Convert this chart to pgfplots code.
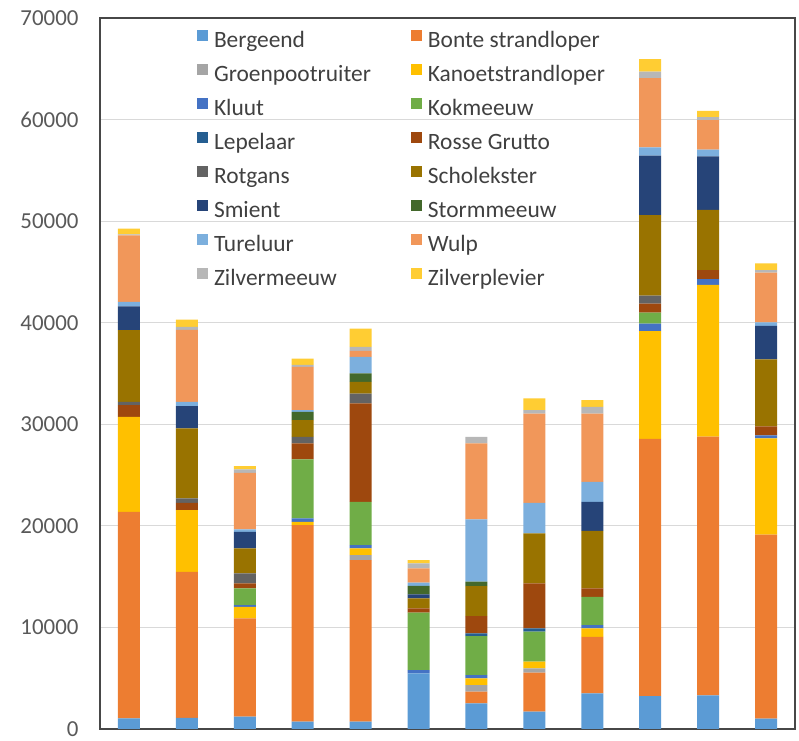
\documentclass[border=0pt]{standalone}
\usepackage{fontspec}
\setmainfont{Carlito}
\usepackage{pgfplots}
\usepackage{pgfplotstable}
\pgfplotsset{compat=1.18}

\definecolor{cBerg}{HTML}{5B9BD5}
\definecolor{cBonte}{HTML}{ED7D31}
\definecolor{cGroen}{HTML}{A5A5A5}
\definecolor{cKanoet}{HTML}{FFC000}
\definecolor{cKluut}{HTML}{4472C4}
\definecolor{cKok}{HTML}{70AD47}
\definecolor{cLepel}{HTML}{255E91}
\definecolor{cRosse}{HTML}{9E480E}
\definecolor{cRot}{HTML}{636363}
\definecolor{cSchol}{HTML}{997300}
\definecolor{cSmient}{HTML}{264478}
\definecolor{cStorm}{HTML}{43682B}
\definecolor{cTur}{HTML}{7CAFDD}
\definecolor{cWulp}{HTML}{F1975A}
\definecolor{cZilvm}{HTML}{B7B7B7}
\definecolor{cZilvp}{HTML}{FFCD33}

\pgfplotstableread{
x  Berg Bonte Groen Kanoet Kluut Kok  Lepel Rosse Rot Schol Smient Storm Tur  Wulp Zilvm Zilvp
0  1050 20330 0     9350   0     0    0     1150  330 7050  2360   0     430  6550 100   570
1  1100 14380 0     6070   0     0    0     720   430 6890  2190   0     420  7090 300   710
2  1210 9680  0     1140   170   1640 0     500   980 2460  1630   0     240  5570 330   330
3  720  19350 0     330    330   5810 0     1570  650 1640  0      820   170  4260 200   620
4  720  15910 490   660    320   4270 0     9680  980 1150  0      820   1640 590  390   1810
5  5480 0     0     0      320   5650 0     420   0   990   400    820   340  1390 490   330
6  2530 1140  660   660    320   3840 270   1700  0   2950  0      430   6130 7480 650   0
7  1700 3840  430   660    0     2950 330   4430  0   4920  0      0     3010 8790 330   1150
8  3510 5570  0     830    320   2790 0     820   0   5670  2860   0     1960 6730 650   660
9  3240 25330 0     10590  740   1100 0     880   780 7920  5880   0     800  6810 650   1230
10 3300 25490 0     14940  570   0    0     880   0   5930  5270   0     650  2910 300   620
11 1020 18110 0     9480   310   0    0     880   0   6590  3290   0     360  4890 250   650
}\data

\begin{document}
\begin{tikzpicture}
\path[use as bounding box] (-100bp,-12bp) rectangle (699bp,729bp);
\begin{axis}[
  at={(0,0)}, anchor=south west,
  width=695bp, height=711bp, scale only axis,
  ybar stacked, bar width=22bp,
  xmin=-0.5, xmax=11.5, ymin=0, ymax=70000,
  xtick=\empty, ytick={0,10000,...,70000},
  ymajorgrids, grid style={draw=black!15, line width=0.8bp},
  axis line style={draw=black!72, line width=1.5bp},
  major tick length=0pt,
  scaled y ticks=false,
  yticklabel style={font=\fontsize{23}{27}\selectfont, text=black!65, xshift=-18bp},
  /pgf/number format/assume math mode=true,
  /pgf/number format/1000 sep={},
  legend columns=2,
  legend cell align=left,
  legend image code/.code={\fill[#1] (0bp,1.5bp) rectangle (11bp,12.5bp);},
  legend style={at={(axis description cs:0.1393,0.9836)}, anchor=north west,
    draw=none, fill=none, inner sep=0pt,
    font=\fontsize{23.5}{28}\selectfont, text=black!75,
    row sep=9bp,
    nodes={inner sep=1bp, text height=17bp, text depth=6bp},
    /tikz/every odd column/.append style={column sep=5bp},
    /tikz/every even column/.append style={column sep=39bp}},
]
\addplot[fill=cBerg, draw=none] table[x=x,y=Berg]{\data};
\addlegendentry{Bergeend}
\addplot[fill=cBonte, draw=none] table[x=x,y=Bonte]{\data};
\addlegendentry{Bonte strandloper}
\addplot[fill=cGroen, draw=none] table[x=x,y=Groen]{\data};
\addlegendentry{Groenpootruiter}
\addplot[fill=cKanoet, draw=none] table[x=x,y=Kanoet]{\data};
\addlegendentry{Kanoetstrandloper}
\addplot[fill=cKluut, draw=none] table[x=x,y=Kluut]{\data};
\addlegendentry{Kluut}
\addplot[fill=cKok, draw=none] table[x=x,y=Kok]{\data};
\addlegendentry{Kokmeeuw}
\addplot[fill=cLepel, draw=none] table[x=x,y=Lepel]{\data};
\addlegendentry{Lepelaar}
\addplot[fill=cRosse, draw=none] table[x=x,y=Rosse]{\data};
\addlegendentry{Rosse Grutto}
\addplot[fill=cRot, draw=none] table[x=x,y=Rot]{\data};
\addlegendentry{Rotgans}
\addplot[fill=cSchol, draw=none] table[x=x,y=Schol]{\data};
\addlegendentry{Scholekster}
\addplot[fill=cSmient, draw=none] table[x=x,y=Smient]{\data};
\addlegendentry{Smient}
\addplot[fill=cStorm, draw=none] table[x=x,y=Storm]{\data};
\addlegendentry{Stormmeeuw}
\addplot[fill=cTur, draw=none] table[x=x,y=Tur]{\data};
\addlegendentry{Tureluur}
\addplot[fill=cWulp, draw=none] table[x=x,y=Wulp]{\data};
\addlegendentry{Wulp}
\addplot[fill=cZilvm, draw=none] table[x=x,y=Zilvm]{\data};
\addlegendentry{Zilvermeeuw}
\addplot[fill=cZilvp, draw=none] table[x=x,y=Zilvp]{\data};
\addlegendentry{Zilverplevier}
\end{axis}
\end{tikzpicture}
\end{document}
